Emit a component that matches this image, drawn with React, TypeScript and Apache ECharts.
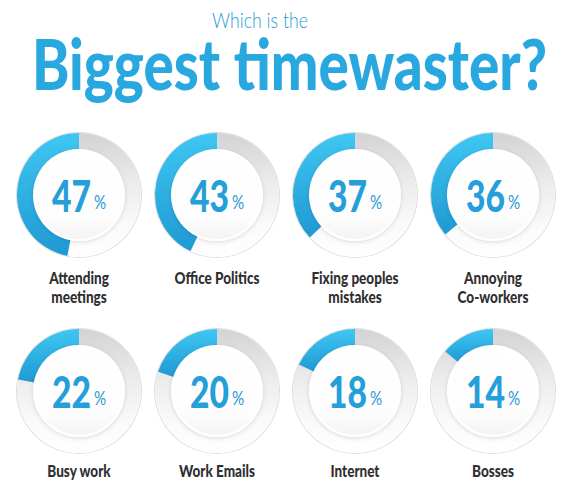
import React, { useEffect, useRef } from 'react';
import * as echarts from 'echarts';

// ---- data ----
const titleLine1 = 'Which is the';
const titleLine2 = 'Biggest timewaster?';
const categories = [
  'Attending\nmeetings',
  'Office Politics',
  'Fixing peoples\nmistakes',
  'Annoying\nCo-workers',
  'Busy work',
  'Work Emails',
  'Internet',
  'Bosses',
];
const values = [47, 43, 37, 36, 22, 20, 18, 14];
const percentSign = '%';

// ---- layout ----
const W = 570;
const H = 502;
const colX = [79, 217, 355, 493];
const rowY = [195, 391];
const outerR = 62;
const innerR = 44;

const measureCtx = document.createElement('canvas').getContext('2d') as CanvasRenderingContext2D;
function measure(text: string, font: string) {
  measureCtx.font = font;
  return measureCtx.measureText(text).width;
}

export default function App() {
  const ref = useRef<HTMLDivElement>(null);
  useEffect(() => {
    document.body.style.margin = '0';
    const chart = echarts.init(ref.current!, null, { renderer: 'svg' });

    const heavy = 'Lato';
    const titleFont = `900 70px ${heavy}`;
    const titleScale = 515 / measure(titleLine2, titleFont);
    const subFont = `300 21px ${heavy}`;
    const subScale = 96 / measure(titleLine1, subFont);
    const numFont = `900 43px ${heavy}`;
    const numScale = 39 / measure('47', numFont);
    const pctFont = `400 19px ${heavy}`;
    const pctScale = 0.8;
    const labelFont = `900 16px ${heavy}`;
    const labelScale = 85 / measure('Office Politics', labelFont);

    const series: any[] = [];
    const graphics: any[] = [];

    const blue = new echarts.graphic.LinearGradient(0, 0, 0, 1, [
      { offset: 0, color: '#3fc7f3' },
      { offset: 1, color: '#1f99d2' },
    ]);
    const gray = new echarts.graphic.LinearGradient(0, 0, 0, 1, [
      { offset: 0, color: '#d3d3d5' },
      { offset: 0.4, color: '#ececed' },
      { offset: 0.75, color: '#fafafa' },
      { offset: 1, color: '#ffffff' },
    ]);
    const inner = new echarts.graphic.LinearGradient(0, 0, 0, 1, [
      { offset: 0, color: '#ffffff' },
      { offset: 0.75, color: '#fdfdfd' },
      { offset: 1, color: '#f3f3f3' },
    ]);

    values.forEach((v, i) => {
      const cx = colX[i % 4];
      const cy = rowY[Math.floor(i / 4)];
      const common = {
        type: 'pie',
        center: [cx, cy],
        silent: true,
        label: { show: false },
        labelLine: { show: false },
        emphasis: { disabled: true },
        animation: false,
      };
      // outer hairline
      series.push({
        ...common,
        z: 1,
        radius: [outerR, outerR + 1],
        data: [{ value: 1, itemStyle: { color: '#dcdcde' } }],
      });
      // gray track (full ring)
      series.push({
        ...common,
        z: 2,
        radius: [innerR, outerR],
        data: [{ value: 1, itemStyle: { color: gray } }],
      });
      // blue value arc
      series.push({
        ...common,
        z: 3,
        radius: [innerR, outerR],
        startAngle: 90,
        clockwise: false,
        data: [
          { value: v, itemStyle: { color: blue } },
          { value: 100 - v, itemStyle: { color: 'rgba(0,0,0,0)' } },
        ],
      });
      // inner disk
      series.push({
        ...common,
        z: 4,
        radius: [0, innerR + 1],
        data: [{
          value: 1,
          itemStyle: {
            color: inner,
            borderColor: '#ffffff',
            borderWidth: 2,
            shadowBlur: 4,
            shadowColor: 'rgba(0,0,0,0.14)',
            shadowOffsetY: 1,
          },
        }],
      });

      // percentage text
      const numStr = String(v);
      const numW = measure(numStr, numFont) * numScale;
      const pctW = measure(percentSign, pctFont) * pctScale;
      const gap = 3;
      const left = cx - (numW + gap + pctW) / 2;
      graphics.push({
        type: 'text',
        x: left,
        y: cy,
        scaleX: numScale,
        z: 10,
        style: {
          text: numStr,
          font: numFont,
          fill: '#259fda',
          textAlign: 'left',
          textVerticalAlign: 'middle',
          shadowBlur: 2,
          shadowColor: 'rgba(0,0,0,0.2)',
          shadowOffsetY: 1,
        },
      });
      graphics.push({
        type: 'text',
        x: left + numW + gap,
        y: cy + 7,
        scaleX: pctScale,
        z: 10,
        style: {
          text: percentSign,
          font: pctFont,
          fill: '#2a9ad6',
          textAlign: 'left',
          textVerticalAlign: 'middle',
        },
      });

      // category label lines
      const lines = categories[i].split('\n');
      const baseY = i < 4 ? 277.5 : 470.5;
      lines.forEach((ln, k) => {
        graphics.push({
          type: 'text',
          x: cx,
          y: baseY + k * 19,
          scaleX: labelScale,
          z: 10,
          style: {
            text: ln,
            font: labelFont,
            fill: '#2f2f31',
            textAlign: 'center',
            textVerticalAlign: 'middle',
          },
        });
      });
    });

    graphics.push({
      type: 'text',
      x: 260,
      y: 19.5,
      scaleX: subScale,
      z: 10,
      style: {
        text: titleLine1,
        font: subFont,
        fill: '#2b9bd8',
        textAlign: 'center',
        textVerticalAlign: 'middle',
      },
    });
    graphics.push({
      type: 'text',
      x: 289.5,
      y: 63,
      scaleX: titleScale,
      z: 10,
      style: {
        text: titleLine2,
        font: titleFont,
        fill: '#29a8e0',
        textAlign: 'center',
        textVerticalAlign: 'middle',
        shadowBlur: 3,
        shadowColor: 'rgba(0,0,0,0.25)',
        shadowOffsetY: 1,
      },
    });

    chart.setOption({
      animation: false,
      backgroundColor: '#ffffff',
      series,
      graphic: { elements: graphics },
    });
    return () => chart.dispose();
  }, []);
  return <div ref={ref} style={{ width: W, height: H }} />;
}
